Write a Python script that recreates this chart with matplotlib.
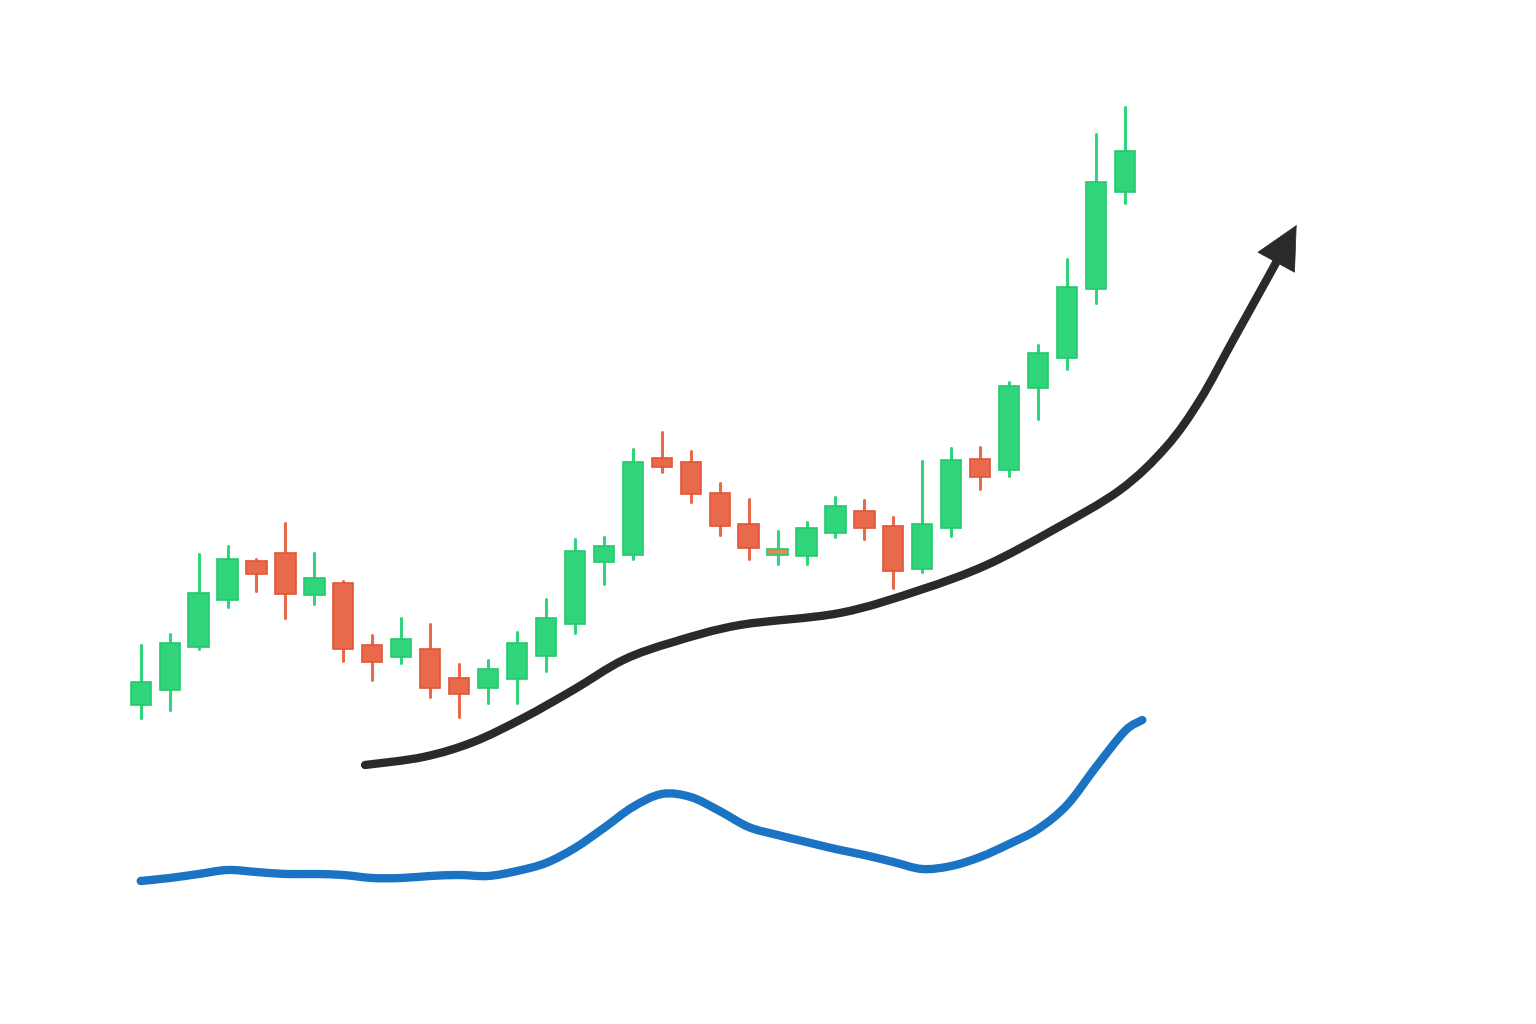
import numpy as np
import matplotlib.pyplot as plt
from matplotlib.patches import Rectangle, PathPatch
from matplotlib.path import Path

# candle data (open, high, low, close)
opens = [31.9, 33.4, 37.7, 42.4, 46.3, 47.1, 42.9, 44.1, 37.9, 36.7, 37.5, 34.6,
         33.6, 34.5, 36.8, 40.0, 46.2, 46.9, 56.6, 56.2, 53.1, 50.0, 46.9, 46.8,
         49.1, 51.3, 49.8, 45.5, 49.6, 56.5, 55.4, 63.6, 66.6, 73.5, 83.2]
highs = [37.9, 39.0, 47.0, 47.8, 46.5, 50.1, 47.1, 44.3, 38.9, 40.6, 40.0, 36.0,
         36.4, 39.2, 42.5, 48.5, 48.7, 57.5, 59.2, 57.3, 54.1, 52.5, 49.3, 50.2,
         52.7, 52.4, 50.7, 56.3, 57.6, 57.7, 64.2, 67.9, 76.5, 89.0, 91.7]
lows = [30.6, 31.4, 37.5, 41.7, 43.3, 40.6, 42.0, 36.3, 34.4, 36.1, 32.7, 30.7,
        32.1, 32.1, 35.3, 39.1, 44.0, 46.5, 55.2, 52.2, 48.9, 46.5, 46.0, 46.0,
        48.7, 48.5, 43.6, 45.2, 48.8, 53.5, 54.8, 60.5, 65.5, 72.1, 82.1]
closes = [34.2, 38.1, 43.1, 46.5, 45.0, 43.0, 44.6, 37.5, 36.2, 38.5, 33.6, 33.0,
          35.5, 38.1, 40.6, 47.3, 47.8, 56.2, 55.7, 53.0, 49.8, 47.6, 47.5, 49.6,
          51.8, 49.6, 45.3, 50.0, 56.4, 54.7, 63.8, 67.1, 73.7, 84.2, 87.3]

# lower indicator line
ind_x = [0, 1, 2, 3, 4, 5, 6, 7, 8, 9, 10, 11, 12, 13, 14, 15, 16, 17, 18, 19,
         20, 21, 22, 23, 24, 25, 26, 27, 28, 29, 30, 31, 32, 33, 34, 34.6]
ind_y = [14.3, 14.6, 15.0, 15.4, 15.2, 15.0, 15.0, 14.9, 14.6, 14.6, 14.8, 14.9,
         14.8, 15.3, 16.1, 17.6, 19.6, 21.7, 23.0, 22.7, 21.3, 19.7, 18.9, 18.2,
         17.5, 16.9, 16.2, 15.5, 15.8, 16.7, 18.0, 19.5, 21.9, 25.7, 29.3, 30.4]

# trend arrow path
trend_x = [7.75, 9.76, 11.49, 13.22, 14.94, 16.67, 18.40, 20.70, 24.15, 26.92,
           29.22, 31.52, 33.83, 35.42, 36.59, 37.74, 38.89, 39.25]
trend_y = [25.9, 26.7, 28.2, 30.6, 33.4, 36.4, 38.2, 39.9, 41.1, 43.4,
           45.9, 49.4, 53.4, 57.7, 62.4, 68.4, 74.4, 76.3]
tip = (39.93, 79.9)

green = '#2fd47b'
green_edge = '#24c96c'
red = '#e9694b'
red_edge = '#e2553a'


def smooth(xs, ys):
    # catmull-rom through the points, drawn as cubic bezier segments
    pts = np.column_stack([xs, ys])
    verts = [pts[0]]
    codes = [Path.MOVETO]
    n = len(pts)
    for i in range(n - 1):
        p0 = pts[max(i - 1, 0)]
        p1 = pts[i]
        p2 = pts[i + 1]
        p3 = pts[min(i + 2, n - 1)]
        verts += [p1 + (p2 - p0) / 6, p2 - (p3 - p1) / 6, p2]
        codes += [Path.CURVE4] * 3
    return Path(verts, codes)


fig = plt.figure(figsize=(15.36, 10.24), dpi=100)
ax = fig.add_axes([0, 0, 1, 1])
ax.set_xlim(-4.86, 48.2)
ax.set_ylim(0, 102.4)
ax.axis('off')

w = 0.7
for i, (o, h, l, c) in enumerate(zip(opens, highs, lows, closes)):
    up = c >= o
    col = green if up else red
    edge = green_edge if up else red_edge
    face = col
    if up and abs(c - o) < 1:
        face = '#dc8f55'
    ax.plot([i, i], [l, h], color=col, lw=2.2, solid_capstyle='round', zorder=2)
    ax.add_patch(Rectangle((i - w / 2, min(o, c)), w, abs(c - o),
                           facecolor=face, edgecolor=edge, lw=1.2, zorder=3))

ax.add_patch(PathPatch(smooth(ind_x, ind_y), fill=False, edgecolor='#1a74c3',
                       lw=6, capstyle='round', joinstyle='round', zorder=2))

ax.add_patch(PathPatch(smooth(trend_x, trend_y), fill=False, edgecolor='#2a2a2a',
                       lw=6, capstyle='round', joinstyle='round', zorder=4))
ax.annotate('', xy=tip, xytext=(trend_x[-1], trend_y[-1]),
            arrowprops=dict(arrowstyle='-|>,head_length=1.0,head_width=0.5',
                            mutation_scale=30, color='#2a2a2a', lw=0.5,
                            shrinkA=0, shrinkB=0), zorder=4)

fig.savefig('out.png', dpi=100, facecolor='white')
